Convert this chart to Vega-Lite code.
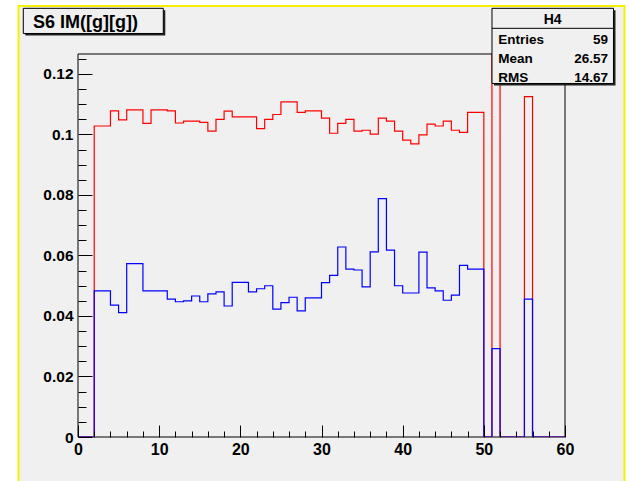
{
  "$schema": "https://vega.github.io/schema/vega-lite/v6.json",
  "width": 487,
  "height": 383,
  "autosize": {"type": "none"},
  "padding": {"left": 78, "top": 54, "right": 66, "bottom": 44},
  "background": "white",
  "config": {"view": {"stroke": null}},
  "datasets": {
    "hist": [
      {"x": 0, "red": 0, "blue": 0},
      {"x": 1, "red": 0, "blue": 0},
      {"x": 2, "red": 0.1028, "blue": 0.0483},
      {"x": 3, "red": 0.1028, "blue": 0.0483},
      {"x": 4, "red": 0.1078, "blue": 0.0436},
      {"x": 5, "red": 0.1048, "blue": 0.0411},
      {"x": 6, "red": 0.1081, "blue": 0.0573},
      {"x": 7, "red": 0.1081, "blue": 0.0573},
      {"x": 8, "red": 0.1037, "blue": 0.0483},
      {"x": 9, "red": 0.1081, "blue": 0.0483},
      {"x": 10, "red": 0.1081, "blue": 0.0483},
      {"x": 11, "red": 0.1078, "blue": 0.0456},
      {"x": 12, "red": 0.1038, "blue": 0.0447},
      {"x": 13, "red": 0.1044, "blue": 0.0450},
      {"x": 14, "red": 0.1044, "blue": 0.0466},
      {"x": 15, "red": 0.1040, "blue": 0.0447},
      {"x": 16, "red": 0.1011, "blue": 0.0473},
      {"x": 17, "red": 0.1050, "blue": 0.0480},
      {"x": 18, "red": 0.1077, "blue": 0.0433},
      {"x": 19, "red": 0.1058, "blue": 0.0511},
      {"x": 20, "red": 0.1058, "blue": 0.0511},
      {"x": 21, "red": 0.1058, "blue": 0.0480},
      {"x": 22, "red": 0.1019, "blue": 0.0490},
      {"x": 23, "red": 0.1050, "blue": 0.0500},
      {"x": 24, "red": 0.1066, "blue": 0.0423},
      {"x": 25, "red": 0.1108, "blue": 0.0444},
      {"x": 26, "red": 0.1108, "blue": 0.0462},
      {"x": 27, "red": 0.1073, "blue": 0.0417},
      {"x": 28, "red": 0.1078, "blue": 0.0460},
      {"x": 29, "red": 0.1078, "blue": 0.0460},
      {"x": 30, "red": 0.1054, "blue": 0.0510},
      {"x": 31, "red": 0.1004, "blue": 0.0534},
      {"x": 32, "red": 0.1037, "blue": 0.0628},
      {"x": 33, "red": 0.1050, "blue": 0.0555},
      {"x": 34, "red": 0.1011, "blue": 0.0552},
      {"x": 35, "red": 0.1014, "blue": 0.0496},
      {"x": 36, "red": 0.1001, "blue": 0.0612},
      {"x": 37, "red": 0.1054, "blue": 0.0788},
      {"x": 38, "red": 0.1044, "blue": 0.0618},
      {"x": 39, "red": 0.1011, "blue": 0.0500},
      {"x": 40, "red": 0.0981, "blue": 0.0476},
      {"x": 41, "red": 0.0969, "blue": 0.0476},
      {"x": 42, "red": 0.0999, "blue": 0.0611},
      {"x": 43, "red": 0.1034, "blue": 0.0493},
      {"x": 44, "red": 0.1028, "blue": 0.0483},
      {"x": 45, "red": 0.1044, "blue": 0.0452},
      {"x": 46, "red": 0.1014, "blue": 0.0469},
      {"x": 47, "red": 0.1007, "blue": 0.0567},
      {"x": 48, "red": 0.1073, "blue": 0.0555},
      {"x": 49, "red": 0.1073, "blue": 0.0555},
      {"x": 50, "red": 0, "blue": 0},
      {"x": 51, "red": 0.14, "blue": 0.0292},
      {"x": 52, "red": 0, "blue": 0},
      {"x": 53, "red": 0, "blue": 0},
      {"x": 54, "red": 0, "blue": 0},
      {"x": 55, "red": 0.1125, "blue": 0.0456},
      {"x": 56, "red": 0, "blue": 0},
      {"x": 57, "red": 0, "blue": 0},
      {"x": 58, "red": 0, "blue": 0},
      {"x": 59, "red": 0, "blue": 0},
      {"x": 60, "red": 0, "blue": 0}
    ],
    "one": [{}]
  },
  "layer": [
    {
      "data": {"name": "one"},
      "mark": {"type": "rect", "fill": "#f0f0f0", "stroke": "#f4f000", "strokeWidth": 2},
      "encoding": {
        "x": {
          "datum": -7.33, "type": "quantitative",
          "scale": {"domain": [0, 60], "nice": false, "zero": false},
          "axis": {
            "values": [0, 2, 4, 6, 8, 10, 12, 14, 16, 18, 20, 22, 24, 26, 28, 30, 32, 34, 36, 38, 40, 42, 44, 46, 48, 50, 52, 54, 56, 58, 60],
            "tickCount": 200,
            "labelExpr": "datum.value % 10 === 0 ? format(datum.value, 'd') : ''",
            "tickSize": {"condition": {"test": "datum.value % 10 === 0", "value": -12}, "value": -6},
            "domain": false, "grid": false, "title": null,
            "labelFont": "Liberation Sans", "labelFontWeight": "bold", "labelFontSize": 16, "labelColor": "black",
            "tickColor": "black", "tickWidth": 1, "labelPadding": 16,
            "labelFlush": false, "labelOverlap": false, "zindex": 1
          }
        },
        "x2": {"datum": 67.33},
        "y": {
          "datum": 0.14247, "type": "quantitative",
          "scale": {"domain": [0, 0.1266], "nice": false, "zero": false},
          "axis": {
            "values": [0, 0.005, 0.01, 0.015, 0.02, 0.025, 0.03, 0.035, 0.04, 0.045, 0.05, 0.055, 0.06, 0.065, 0.07, 0.075, 0.08, 0.085, 0.09, 0.095, 0.1, 0.105, 0.11, 0.115, 0.12, 0.125],
            "tickCount": 200,
            "labelExpr": "abs(datum.value * 50 - round(datum.value * 50)) < 0.000001 ? format(datum.value, '.2~f') : ''",
            "tickSize": {"condition": {"test": "abs(datum.value * 50 - round(datum.value * 50)) < 0.000001", "value": -14}, "value": -8},
            "domain": false, "grid": false, "title": null,
            "labelFont": "Liberation Sans", "labelFontWeight": "bold", "labelFontSize": 15.5, "labelColor": "black",
            "tickColor": "black", "tickWidth": 1, "labelPadding": 19,
            "labelFlush": false, "labelOverlap": false, "zindex": 1
          }
        },
        "y2": {"datum": -0.03}
      }
    },
    {
      "data": {"name": "one"},
      "mark": {"type": "rect", "fillOpacity": 0, "stroke": "black", "strokeWidth": 1},
      "encoding": {
        "x": {"datum": 0, "type": "quantitative"},
        "x2": {"datum": 60},
        "y": {"datum": 0, "type": "quantitative"},
        "y2": {"datum": 0.1266}
      }
    },
    {
      "data": {"name": "hist"},
      "mark": {"type": "line", "interpolate": "step-after", "color": "#ff0000", "strokeWidth": 1.2, "clip": true},
      "encoding": {
        "x": {"field": "x", "type": "quantitative"},
        "y": {"field": "red", "type": "quantitative"}
      }
    },
    {
      "data": {"name": "hist"},
      "mark": {"type": "line", "interpolate": "step-after", "color": "#0000ff", "strokeWidth": 1.2, "clip": true},
      "encoding": {
        "x": {"field": "x", "type": "quantitative"},
        "y": {"field": "blue", "type": "quantitative"}
      }
    },
    {
      "data": {"name": "one"},
      "mark": {"type": "rect", "fill": "#222222"},
      "encoding": {
        "x": {"datum": -6.493, "type": "quantitative"},
        "x2": {"datum": 10.755},
        "y": {"datum": 0.14104, "type": "quantitative"},
        "y2": {"datum": 0.13272}
      }
    },
    {
      "data": {"name": "one"},
      "mark": {"type": "rect", "fill": "#f0f0f0", "stroke": "black", "strokeWidth": 1},
      "encoding": {
        "x": {"datum": -6.739, "type": "quantitative"},
        "x2": {"datum": 10.509},
        "y": {"datum": 0.14170, "type": "quantitative"},
        "y2": {"datum": 0.13338}
      }
    },
    {
      "data": {"name": "one"},
      "mark": {"type": "text", "text": "S6 IM([g][g])", "font": "Liberation Sans", "fontWeight": "bold", "fontSize": 18, "align": "left", "baseline": "alphabetic", "color": "black"},
      "encoding": {
        "x": {"datum": -5.544, "type": "quantitative"},
        "y": {"datum": 0.13503, "type": "quantitative"}
      }
    },
    {
      "data": {"name": "one"},
      "mark": {"type": "rect", "fill": "#222222"},
      "encoding": {
        "x": {"datum": 51.252, "type": "quantitative"},
        "x2": {"datum": 66.222},
        "y": {"datum": 0.14104, "type": "quantitative"},
        "y2": {"datum": 0.11619}
      }
    },
    {
      "data": {"name": "one"},
      "mark": {"type": "rect", "fill": "#f0f0f0", "stroke": "black", "strokeWidth": 1},
      "encoding": {
        "x": {"datum": 51.006, "type": "quantitative"},
        "x2": {"datum": 65.975},
        "y": {"datum": 0.14170, "type": "quantitative"},
        "y2": {"datum": 0.11685}
      }
    },
    {
      "data": {"name": "one"},
      "mark": {"type": "rule", "color": "black", "strokeWidth": 1},
      "encoding": {
        "x": {"datum": 51.006, "type": "quantitative"},
        "x2": {"datum": 65.975},
        "y": {"datum": 0.13509, "type": "quantitative"}
      }
    },
    {
      "data": {"name": "one"},
      "mark": {"type": "text", "text": "H4", "font": "Liberation Sans", "fontWeight": "bold", "fontSize": 14, "align": "center", "baseline": "alphabetic", "color": "black"},
      "encoding": {
        "x": {"datum": 58.48, "type": "quantitative"},
        "y": {"datum": 0.13652, "type": "quantitative"}
      }
    },
    {
      "data": {"name": "one"},
      "mark": {"type": "text", "text": ["Entries", "Mean", "RMS"], "lineHeight": 19, "font": "Liberation Sans", "fontWeight": "bold", "fontSize": 13.5, "align": "left", "baseline": "alphabetic", "color": "black"},
      "encoding": {
        "x": {"datum": 51.78, "type": "quantitative"},
        "y": {"datum": 0.12990, "type": "quantitative"}
      }
    },
    {
      "data": {"name": "one"},
      "mark": {"type": "text", "text": ["59", "26.57", "14.67"], "lineHeight": 19, "font": "Liberation Sans", "fontWeight": "bold", "fontSize": 13.5, "align": "right", "baseline": "alphabetic", "color": "black"},
      "encoding": {
        "x": {"datum": 65.30, "type": "quantitative"},
        "y": {"datum": 0.12990, "type": "quantitative"}
      }
    }
  ]
}
